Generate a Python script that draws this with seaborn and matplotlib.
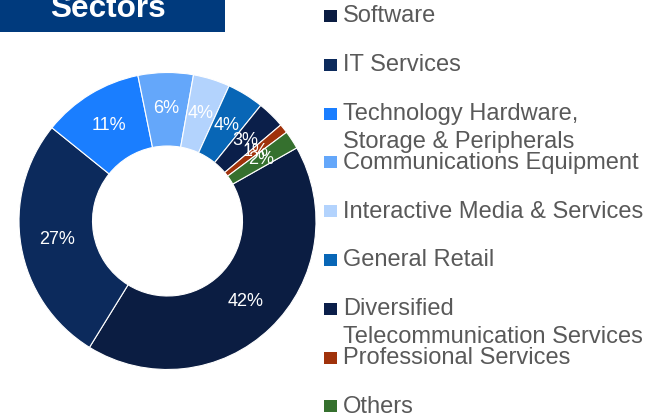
import matplotlib
matplotlib.use("Agg")
import matplotlib.pyplot as plt
from matplotlib.patches import Rectangle
import seaborn as sns

# Portfolio weights by sector (%)
sectors = [
    "Software",
    "IT Services",
    "Technology Hardware,\nStorage & Peripherals",
    "Communications Equipment",
    "Interactive Media & Services",
    "General Retail",
    "Diversified\nTelecommunication Services",
    "Professional Services",
    "Others",
]
weights = [42, 27, 11, 6, 4, 4, 3, 1, 2]
sector_colors = [
    "#0B1D42", "#0C2A5C", "#1A7EFF", "#64A7FA", "#B3D3FD",
    "#0866B6", "#0B1F4A", "#A0320B", "#35702E",
]
title = "Sectors"

sns.set_theme(style="white")
plt.rcParams["font.family"] = ["Liberation Sans", "DejaVu Sans"]
palette = sns.color_palette(sector_colors)

W, H = 651, 417
fig = plt.figure(figsize=(W / 100, H / 100), dpi=100)
fig.patch.set_facecolor("white")

# Donut
cx, cy, r = 167.5, 221.0, 148.5
ax = fig.add_axes([(cx - r) / W, (H - cy - r) / H, 2 * r / W, 2 * r / H])
wedges, texts, autotexts = ax.pie(
    weights,
    colors=palette,
    startangle=29.5,
    counterclock=False,
    autopct=lambda p: f"{p:.0f}%",
    pctdistance=0.755,
    wedgeprops=dict(width=0.495, edgecolor="white", linewidth=0.8),
    textprops=dict(color="white", fontsize=13),
)
ax.set_xlim(-1, 1)
ax.set_ylim(-1, 1)
ax.set_aspect("equal")
ax.axis("off")

# Title banner
fig.patches.append(Rectangle((0, 1 - 31.7 / H), 225 / W, 31.7 / H + 0.01,
                             transform=fig.transFigure, facecolor="#003A7D",
                             edgecolor="none", zorder=0))
fig.text(108 / W, 1 - 16.7 / H, title, color="white", fontsize=22.7,
         fontweight="bold", ha="center", va="baseline")

# Legend
y0, step, line_gap = 16.0, 48.8, 27.5
for i, (name, col) in enumerate(zip(sectors, palette)):
    yc = y0 + step * i
    fig.patches.append(Rectangle((324 / W, 1 - (yc + 6) / H), 12.5 / W, 12 / H,
                                 transform=fig.transFigure, facecolor=col,
                                 edgecolor="none"))
    for j, line in enumerate(name.split("\n")):
        fig.text(343 / W, 1 - (yc + j * line_gap + 0.5) / H, line,
                 color="#595959", fontsize=17, ha="left", va="center")

fig.savefig("out.png", dpi=100, facecolor="white")
